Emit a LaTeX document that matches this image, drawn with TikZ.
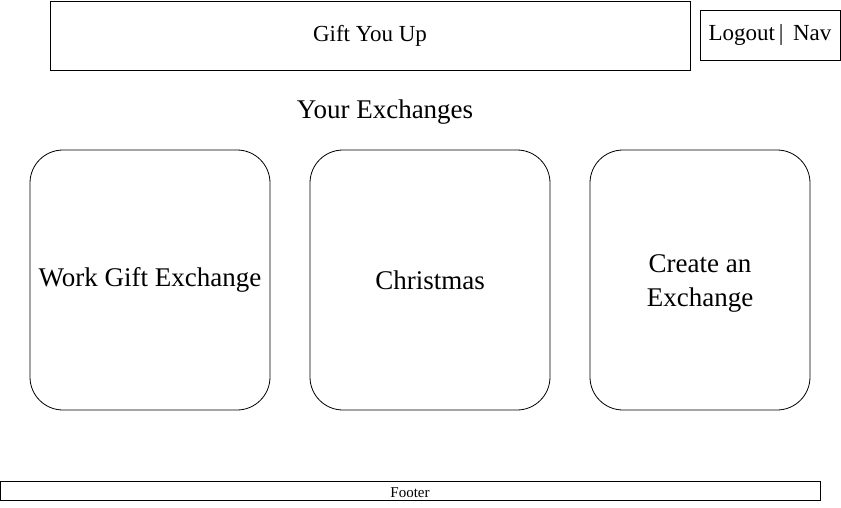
\documentclass[tikz,border=0pt]{standalone}
\usepackage{fontspec}
\setmainfont{Liberation Serif}
\usetikzlibrary{positioning}

\tikzset{
	frame/.style={draw=black, line width=0.8pt, inner sep=0pt},
	card/.style={frame, rounded corners=33pt, minimum width=240pt, minimum height=260pt, align=center, font=\fontsize{27}{34}\selectfont}
}

\begin{document}
\begin{tikzpicture}[x=1pt, y=-1pt]
	\useasboundingbox (0,0) rectangle (841,507);

	% Testata
	\node[frame, minimum width=640pt, minimum height=69pt, font=\fontsize{23}{26}\selectfont] (head) at (370,35.5) {Gift You Up};
	\node[frame, minimum width=140pt, minimum height=50pt, font=\fontsize{23}{26}\selectfont] (nav) at (770,35) {Logout\,|\, Nav};

	\node[font=\fontsize{27}{30}\selectfont] (title) at (385,112.5) {Your Exchanges};

	% Schede
	\node[card] (work) at (150,280) {Work Gift Exchange};
	\node[card] (xmas) at (430,280) {Christmas};
	\node[card, minimum width=220pt, text height=59pt] (create) at (700,280) {Create an\\ Exchange};

	% Footer
	\node[frame, minimum width=820pt, minimum height=19pt,
		label={[font=\fontsize{15}{17}\selectfont, yshift=-2pt]center:Footer}] (foot) at (410,490.5) {};

\end{tikzpicture}
\end{document}
